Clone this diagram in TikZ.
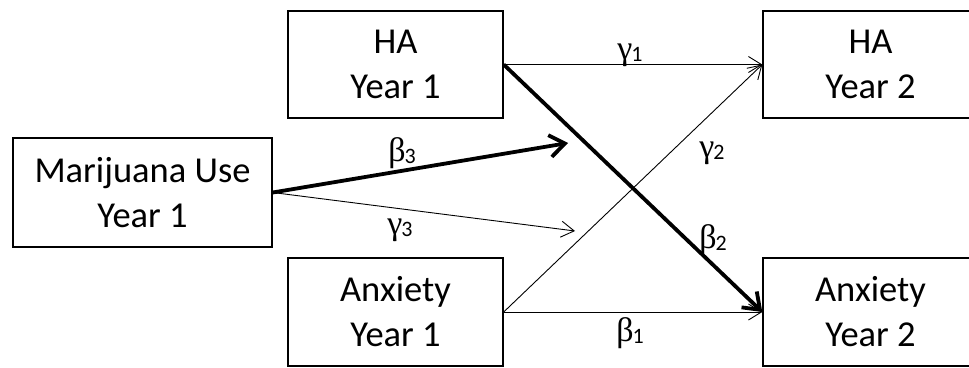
\documentclass[tikz,border=0pt]{standalone}
\usepackage{fontspec}
\setmainfont{Carlito}
\setsansfont{Carlito}
\newfontfamily\grk{Liberation Serif}
\usetikzlibrary{arrows.meta}
\newcommand{\lbl}[2]{{\grk\fontsize{34}{34}\selectfont #1}\kern-1pt\raisebox{-0.45ex}{\fontsize{22}{22}\selectfont #2}}
\tikzset{
  box/.style={draw, line width=1.4pt, minimum width=215pt, minimum height=107pt, inner sep=0pt,
    align=center, font=\fontsize{36.5}{45}\selectfont},
  thin/.style={line width=0.9pt, -{Straight Barb[length=13pt,width=16pt,line width=0.9pt]}},
  thick/.style={line width=3.8pt, -{Straight Barb[length=15pt,width=22pt,line width=3.8pt]}},
  lab/.style={inner sep=0pt}
}
\begin{document}
\begin{tikzpicture}[x=1pt,y=-1pt]
\useasboundingbox (0,0) rectangle (969,367);
\clip (0,0) rectangle (969,367);
\node[box] (ha1) at (395.5,64.5) {HA\\Year 1};
\node[box, minimum height=108pt] (an1) at (395.5,312) {Anxiety\\Year 1};
\node[box, minimum width=259pt, minimum height=109pt] (mar) at (142.5,192.5) {Marijuana Use\\Year 1};
\node[box] (ha2) at (870.5,64.5) {HA\\Year 2};
\node[box, minimum height=108pt] (an2) at (870.5,312) {Anxiety\\Year 2};
\coordinate (b3end) at (568,143);
\coordinate (g3end) at (575,231);
\draw[thin] (ha1.east) -- (ha2.west);
\draw[thin] (an1.east) -- (ha2.west);
\draw[thin] (an1.east) -- (an2.west);
\draw[thick] (ha1.east) -- (an2.west);
\draw[thick] (mar.east) -- (b3end);
\draw[thin] (mar.east) -- (g3end);
\node[lab] (lg1) at (630,55) {\lbl{γ}{1}};
\node[lab] (lb2) at (713,240) {\lbl{β}{2}};
\node[lab] (lg2) at (712,153) {\lbl{γ}{2}};
\node[lab] (lb1) at (630,333) {\lbl{β}{1}};
\node[lab] (lb3) at (402,153) {\lbl{β}{3}};
\node[lab] (lg3) at (400,230) {\lbl{γ}{3}};
\end{tikzpicture}
\end{document}
